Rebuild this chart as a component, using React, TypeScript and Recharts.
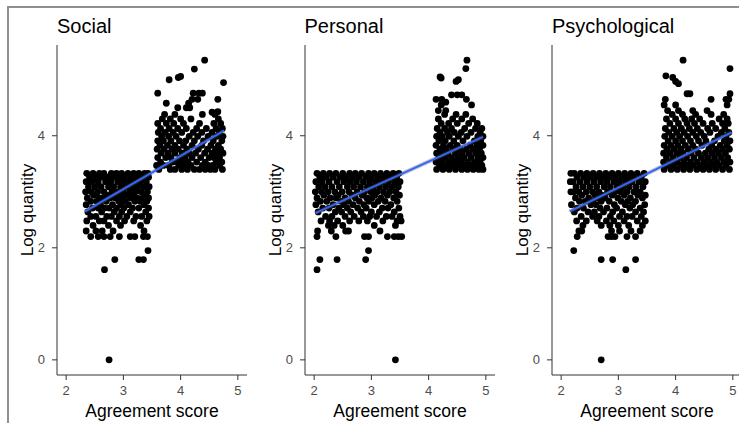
import { ScatterChart, Scatter, XAxis, YAxis } from 'recharts';

type Row = [number, number[]];
type Pt = [number, number];

const titles = ['Social', 'Personal', 'Psychological'];
const xTicks = [2, 3, 4, 5];
const yTicks = [0, 2, 4];

// each row: log quantity value, then the agreement scores of the points on it
const socialRows: Row[] = [
  [3.33, [2.36, 2.47, 2.58, 2.66, 2.79, 2.88, 2.97, 3.08, 3.18, 3.27, 3.37, 3.43]],
  [3.26, [2.41, 2.52, 2.62, 2.73, 2.84, 2.93, 3.02, 3.13, 3.22, 3.33, 3.44]],
  [3.18, [2.35, 2.45, 2.56, 2.69, 2.78, 2.9, 3.0, 3.09, 3.19, 3.29, 3.4]],
  [3.09, [2.39, 2.5, 2.61, 2.74, 2.83, 2.95, 3.05, 3.15, 3.25, 3.36, 3.45]],
  [3.0, [2.34, 2.44, 2.55, 2.66, 2.8, 2.89, 3.0, 3.11, 3.21, 3.31, 3.42]],
  [2.94, [2.48, 2.71, 2.93, 3.06, 3.17, 3.38]],
  [2.89, [2.37, 2.58, 2.65, 2.77, 2.86, 2.99, 3.12, 3.24, 3.34, 3.44]],
  [2.83, [2.43, 2.53, 2.7, 2.92, 3.03, 3.2, 3.29, 3.41]],
  [2.77, [2.35, 2.6, 2.81, 2.96, 3.09, 3.36]],
  [2.71, [2.46, 2.56, 2.67, 2.75, 2.88, 3.01, 3.16, 3.27, 3.44]],
  [2.64, [2.38, 2.62, 2.84, 2.97, 3.12, 3.39]],
  [2.56, [2.43, 2.52, 2.71, 2.79, 2.93, 3.06, 3.22, 3.32, 3.45]],
  [2.48, [2.36, 2.58, 2.66, 2.88, 3.02, 3.18, 3.41]],
  [2.4, [2.47, 2.74, 2.95, 3.3]],
  [2.3, [2.35, 2.52, 2.63, 2.82, 3.36]],
  [2.2, [2.43, 2.56, 2.66, 2.77, 2.93, 3.12, 3.2, 3.35, 3.42]],
  [3.4, [3.62, 3.82, 3.9, 4.02, 4.12, 4.24, 4.33, 4.43, 4.52, 4.6, 4.73]],
  [3.47, [3.58, 3.7, 3.79, 3.97, 4.07, 4.18, 4.38, 4.48, 4.56, 4.68]],
  [3.53, [3.65, 3.86, 3.93, 4.02, 4.13, 4.28, 4.43, 4.62, 4.72]],
  [3.61, [3.6, 3.74, 3.83, 3.99, 4.08, 4.2, 4.35, 4.5, 4.58, 4.68]],
  [3.69, [3.66, 3.78, 3.9, 4.03, 4.15, 4.26, 4.42, 4.55, 4.64, 4.74]],
  [3.76, [3.59, 3.71, 3.85, 3.96, 4.11, 4.31, 4.47, 4.61, 4.7]],
  [3.83, [3.64, 3.77, 3.9, 4.05, 4.2, 4.37, 4.53, 4.66]],
  [3.91, [3.6, 3.7, 3.83, 3.98, 4.09, 4.24, 4.4, 4.57, 4.72]],
  [3.99, [3.67, 3.79, 3.92, 4.15, 4.3, 4.48, 4.63, 4.74]],
  [4.06, [3.61, 3.73, 3.87, 4.02, 4.22, 4.37, 4.55, 4.68]],
  [4.13, [3.65, 3.8, 3.95, 4.1, 4.28, 4.45, 4.62, 4.73]],
  [4.22, [3.6, 3.75, 3.88, 4.05, 4.33, 4.58, 4.7]],
  [4.3, [3.68, 3.82, 4.0, 4.18, 4.66]],
  [4.38, [3.72, 3.9, 4.38, 4.6]],
  [4.5, [3.95, 4.1, 4.16]],
  [4.58, [3.75, 4.14]],
  [4.65, [4.2, 4.3, 4.65]],
  [4.76, [3.6, 4.22, 4.32, 4.38]],
];
const socialExtra: Pt[] = [
  [2.85, 1.79], [3.27, 1.79], [3.35, 1.79], [3.43, 1.95], [2.67, 1.61], [2.75, 0],
  [3.8, 5.0], [3.96, 5.04], [4.0, 5.06], [4.24, 5.19], [4.42, 5.35], [4.75, 4.95],
  [4.55, 4.42], [4.65, 4.43],
];
const socialFit: Pt[] = [[2.33, 2.65], [4.76, 4.09]];

const personalRows: Row[] = [
  [3.33, [2.05, 2.16, 2.27, 2.38, 2.5, 2.62, 2.72, 2.83, 2.95, 3.05, 3.16, 3.27, 3.38, 3.48]],
  [3.26, [2.1, 2.21, 2.33, 2.45, 2.56, 2.67, 2.78, 2.9, 3.0, 3.11, 3.22, 3.33, 3.44]],
  [3.18, [2.03, 2.14, 2.26, 2.4, 2.52, 2.63, 2.74, 2.86, 2.97, 3.08, 3.19, 3.3, 3.41, 3.5]],
  [3.09, [2.08, 2.19, 2.31, 2.44, 2.58, 2.69, 2.81, 2.93, 3.03, 3.14, 3.25, 3.36, 3.47]],
  [3.0, [2.02, 2.13, 2.24, 2.36, 2.49, 2.61, 2.75, 2.88, 2.99, 3.1, 3.21, 3.32, 3.43]],
  [2.94, [2.17, 2.42, 2.66, 2.84, 3.06, 3.28, 3.49]],
  [2.89, [2.05, 2.28, 2.38, 2.54, 2.72, 2.92, 3.01, 3.17, 3.39]],
  [2.83, [2.11, 2.22, 2.47, 2.6, 2.79, 2.96, 3.12, 3.24, 3.45]],
  [2.77, [2.03, 2.33, 2.52, 2.68, 2.87, 3.05, 3.34]],
  [2.71, [2.15, 2.26, 2.43, 2.58, 2.76, 2.91, 3.19, 3.29, 3.48]],
  [2.64, [2.07, 2.37, 2.48, 2.64, 2.82, 3.0, 3.14, 3.4]],
  [2.56, [2.2, 2.31, 2.54, 2.7, 2.86, 2.97, 3.09, 3.26, 3.36, 3.5]],
  [2.48, [2.12, 2.27, 2.41, 2.62, 2.78, 2.93, 3.2, 3.45, 3.52]],
  [2.4, [2.25, 2.35, 2.5, 3.05, 3.42]],
  [2.3, [2.06, 2.3, 2.55, 2.6, 3.15]],
  [2.2, [2.05, 2.38, 2.88, 2.95, 3.28, 3.4, 3.47, 3.53]],
  [3.4, [4.14, 4.25, 4.36, 4.47, 4.58, 4.68, 4.78, 4.88, 4.95]],
  [3.47, [4.19, 4.3, 4.41, 4.52, 4.63, 4.73, 4.84, 4.93]],
  [3.53, [4.13, 4.24, 4.35, 4.46, 4.57, 4.68, 4.8, 4.9]],
  [3.61, [4.18, 4.29, 4.4, 4.51, 4.62, 4.74, 4.86, 4.95]],
  [3.69, [4.14, 4.23, 4.34, 4.47, 4.58, 4.7, 4.82, 4.92]],
  [3.76, [4.2, 4.31, 4.43, 4.55, 4.66, 4.78, 4.89]],
  [3.83, [4.13, 4.26, 4.38, 4.5, 4.73, 4.85, 4.95]],
  [3.91, [4.18, 4.29, 4.44, 4.6, 4.8, 4.91]],
  [3.99, [4.14, 4.24, 4.36, 4.52, 4.67, 4.86, 4.95]],
  [4.06, [4.2, 4.33, 4.45, 4.57, 4.74, 4.9]],
  [4.13, [4.15, 4.28, 4.4, 4.63, 4.82, 4.93]],
  [4.22, [4.22, 4.35, 4.5, 4.7, 4.85]],
  [4.3, [4.17, 4.42, 4.58, 4.77]],
  [4.38, [4.28, 4.48, 4.65]],
  [4.45, [4.17, 4.3]],
  [4.55, [4.22, 4.75]],
  [4.65, [4.13, 4.23, 4.66]],
  [4.73, [4.4, 4.5, 4.58]],
];
const personalExtra: Pt[] = [
  [2.1, 1.79], [2.4, 1.79], [2.9, 1.79], [2.95, 1.95], [2.05, 1.61], [3.42, 0],
  [4.2, 5.05], [4.22, 5.03], [4.48, 4.97], [4.52, 5.0], [4.65, 5.2], [4.67, 5.35],
  [4.3, 4.6],
];
const personalFit: Pt[] = [[2.02, 2.62], [4.95, 3.98]];

const psychRows: Row[] = [
  [3.33, [2.17, 2.23, 2.34, 2.45, 2.56, 2.67, 2.78, 2.89, 3.0, 3.11, 3.22, 3.33, 3.45]],
  [3.26, [2.28, 2.4, 2.51, 2.62, 2.73, 2.84, 2.95, 3.06, 3.17, 3.28, 3.4]],
  [3.18, [2.16, 2.21, 2.33, 2.45, 2.57, 2.69, 2.8, 2.92, 3.02, 3.13, 3.24, 3.36, 3.47]],
  [3.09, [2.26, 2.38, 2.5, 2.62, 2.75, 2.86, 2.98, 3.08, 3.19, 3.31, 3.43]],
  [3.0, [2.17, 2.22, 2.31, 2.44, 2.55, 2.66, 2.81, 2.94, 3.04, 3.15, 3.27, 3.38]],
  [2.94, [2.36, 2.59, 2.71, 2.89, 3.1, 3.34, 3.47]],
  [2.89, [2.25, 2.48, 2.64, 2.77, 2.99, 3.21, 3.42]],
  [2.83, [2.32, 2.42, 2.55, 2.7, 2.84, 3.05, 3.16, 3.3]],
  [2.77, [2.18, 2.52, 2.61, 2.93, 3.12, 3.25, 3.46]],
  [2.71, [2.28, 2.39, 2.68, 2.8, 2.97, 3.2, 3.38]],
  [2.64, [2.23, 2.47, 2.58, 2.74, 2.9, 3.07, 3.3, 3.44]],
  [2.56, [2.35, 2.55, 2.66, 2.86, 3.02, 3.15, 3.24, 3.4]],
  [2.48, [2.27, 2.44, 2.63, 2.79, 2.92, 3.1, 3.33, 3.47]],
  [2.4, [2.38, 2.7, 2.85, 3.0, 3.18, 3.42]],
  [2.3, [2.31, 2.36, 2.88, 3.02, 3.22, 3.38]],
  [2.2, [2.28, 2.82, 2.88, 2.94, 3.15, 3.3]],
  [3.4, [3.8, 3.92, 4.03, 4.14, 4.25, 4.37, 4.48, 4.59, 4.7, 4.82, 4.94]],
  [3.47, [3.86, 3.97, 4.09, 4.2, 4.31, 4.43, 4.54, 4.65, 4.76, 4.88]],
  [3.53, [3.79, 3.91, 4.02, 4.14, 4.26, 4.38, 4.5, 4.61, 4.72, 4.84, 4.95]],
  [3.61, [3.84, 3.96, 4.08, 4.19, 4.32, 4.45, 4.56, 4.68, 4.8, 4.91]],
  [3.69, [3.79, 3.9, 4.02, 4.13, 4.27, 4.4, 4.52, 4.64, 4.75, 4.87]],
  [3.76, [3.85, 3.97, 4.09, 4.22, 4.35, 4.58, 4.7, 4.82, 4.94]],
  [3.83, [3.8, 3.92, 4.04, 4.17, 4.3, 4.46, 4.63, 4.78, 4.9]],
  [3.91, [3.87, 4.0, 4.12, 4.26, 4.4, 4.53, 4.68, 4.85, 4.95]],
  [3.99, [3.81, 3.94, 4.07, 4.21, 4.36, 4.5, 4.74, 4.88]],
  [4.06, [3.88, 4.02, 4.15, 4.3, 4.44, 4.6, 4.8, 4.93]],
  [4.13, [3.82, 3.97, 4.1, 4.24, 4.38, 4.56, 4.7, 4.86]],
  [4.22, [3.9, 4.05, 4.2, 4.33, 4.48, 4.64, 4.82, 4.92]],
  [4.3, [3.84, 4.0, 4.16, 4.28, 4.42, 4.76, 4.9]],
  [4.38, [3.94, 4.12, 4.35, 4.62, 4.84]],
  [4.45, [3.86, 4.05, 4.3, 4.55]],
  [4.55, [3.8, 4.0, 4.9]],
  [4.65, [3.82, 4.62, 4.88, 4.93]],
  [4.75, [4.2, 4.25, 4.95]],
];
const psychExtra: Pt[] = [
  [2.22, 1.95], [2.7, 1.79], [2.9, 1.79], [3.3, 1.79], [3.13, 1.61], [2.7, 0],
  [3.83, 5.07], [3.95, 5.04], [4.0, 4.97], [4.05, 4.93], [4.13, 5.35], [4.95, 5.2],
];
const psychFit: Pt[] = [[2.15, 2.65], [4.98, 4.06]];

const toPoints = (rows: Row[], extra: Pt[]) =>
  rows
    .flatMap(([y, xs]) => xs.map((x) => ({ x, y })))
    .concat(extra.map(([x, y]) => ({ x, y })));

const panels = [
  { points: toPoints(socialRows, socialExtra), fit: socialFit },
  { points: toPoints(personalRows, personalExtra), fit: personalFit },
  { points: toPoints(psychRows, psychExtra), fit: psychFit },
];

const font = '"Liberation Sans", Arial, sans-serif';

const Dot = (props: any) => <circle cx={props.cx} cy={props.cy} r={3.4} fill="#000" />;
const NoDot = () => <g />;

function Panel({ title, points, fit, left }: { title: string; points: { x: number; y: number }[]; fit: Pt[]; left: number }) {
  const segment = fit.map(([x, y]) => ({ x, y }));
  return (
    <div style={{ position: 'absolute', left, top: 0, width: 247, height: 423 }}>
      <ScatterChart width={247} height={423} margin={{ top: 45, right: 0, bottom: 0, left: 0 }}>
        <XAxis
          type="number"
          dataKey="x"
          domain={[1.84, 5.16]}
          ticks={xTicks}
          allowDataOverflow
          height={48}
          tickSize={5}
          tickMargin={6}
          stroke="#333"
          tick={{ fill: '#4d4d4d', fontSize: 13 }}
          label={{ value: 'Agreement score', position: 'insideBottom', offset: 6, fill: '#000', fontSize: 17.5 }}
        />
        <YAxis
          type="number"
          dataKey="y"
          domain={[-0.27, 5.62]}
          ticks={yTicks}
          allowDataOverflow
          width={57}
          tickSize={5}
          tickMargin={7}
          stroke="#333"
          tick={{ fill: '#4d4d4d', fontSize: 13 }}
          label={{ value: 'Log quantity', angle: -90, position: 'insideLeft', offset: 27, fill: '#000', fontSize: 17, style: { textAnchor: 'middle' } }}
        />
        <Scatter data={points} isAnimationActive={false} shape={Dot} />
        <Scatter data={segment} isAnimationActive={false} shape={NoDot} line={{ stroke: '#555', strokeOpacity: 0.35, strokeWidth: 4 }} />
        <Scatter data={segment} isAnimationActive={false} shape={NoDot} line={{ stroke: '#3366FF', strokeWidth: 2 }} />
      </ScatterChart>
      <div style={{ position: 'absolute', left: 57, top: 16, fontSize: 20, lineHeight: '20px', color: '#000', whiteSpace: 'nowrap' }}>
        {title}
      </div>
    </div>
  );
}

export default function App() {
  return (
    <div style={{ position: 'absolute', left: 0, top: 0, width: 739, height: 423, overflow: 'hidden', background: '#fff', fontFamily: font }}>
      <div style={{ position: 'absolute', left: 7, top: 6, width: 740, height: 420, borderTop: '2px solid #8f8f8f', borderLeft: '2px solid #8f8f8f' }} />
      {panels.map((p, i) => (
        <Panel key={titles[i]} title={titles[i]} points={p.points} fit={p.fit} left={i * 247.5} />
      ))}
    </div>
  );
}
